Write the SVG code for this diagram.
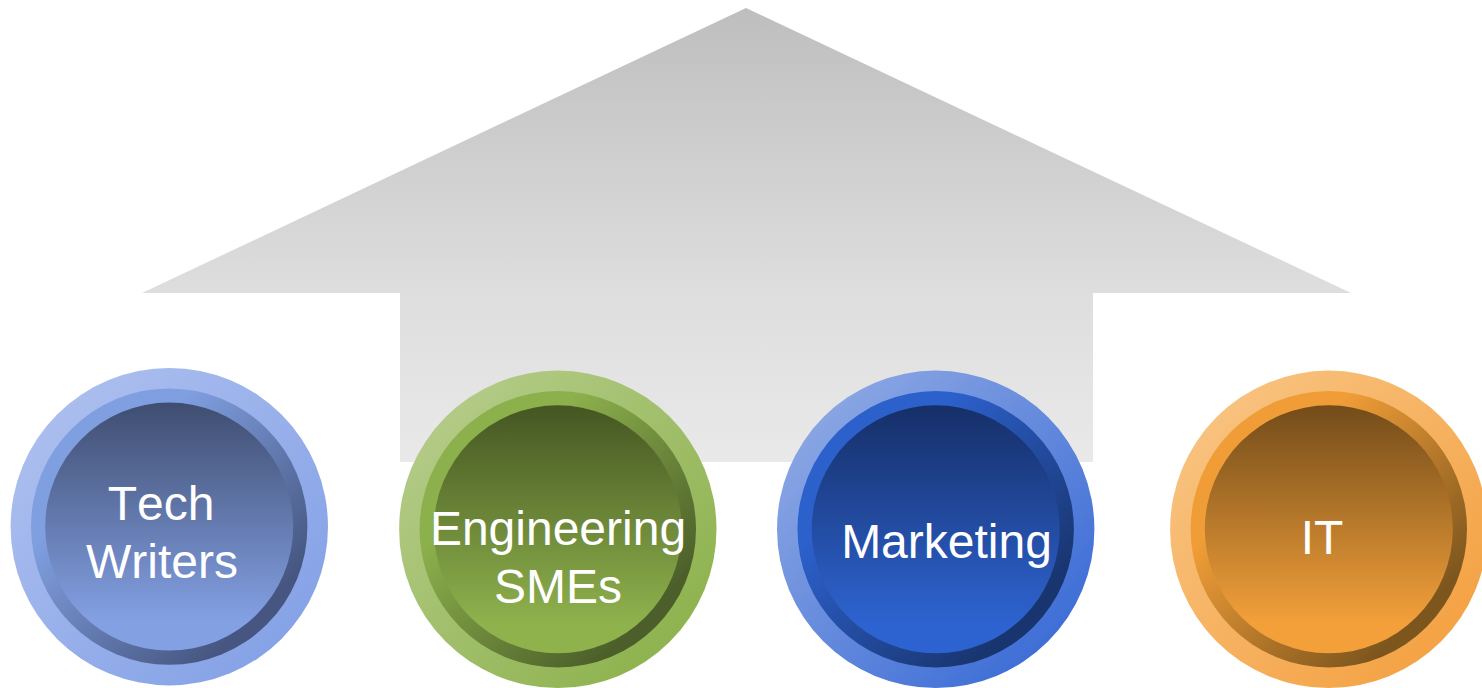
<svg xmlns="http://www.w3.org/2000/svg" width="1482" height="688" viewBox="0 0 1482 688">
<style>
text{font-family:"Liberation Sans",Arial,sans-serif;font-size:48px;fill:#fff;text-anchor:middle;font-kerning:none}
</style>
<defs>
<linearGradient id="arrowG" gradientUnits="userSpaceOnUse" x1="0" y1="8" x2="0" y2="462"><stop offset="0" stop-color="#bebebe"/><stop offset="0.63" stop-color="#dedede"/><stop offset="1" stop-color="#e9e9e9"/></linearGradient>
<linearGradient id="o1" x1="0.15" y1="0.15" x2="0.85" y2="0.85"><stop offset="0" stop-color="#aabdee"/><stop offset="1" stop-color="#86a3e7"/></linearGradient>
<linearGradient id="m1" x1="0.15" y1="0.15" x2="0.85" y2="0.85"><stop offset="0.2" stop-color="#809fe0"/><stop offset="0.95" stop-color="#465680"/></linearGradient>
<linearGradient id="i1" x1="0" y1="0" x2="0" y2="1"><stop offset="0" stop-color="#3f4d70"/><stop offset="0.88" stop-color="#83a0e3"/></linearGradient>
<linearGradient id="o2" x1="0.15" y1="0.15" x2="0.85" y2="0.85"><stop offset="0" stop-color="#b2ca85"/><stop offset="1" stop-color="#8fb350"/></linearGradient>
<linearGradient id="m2" x1="0.15" y1="0.15" x2="0.85" y2="0.85"><stop offset="0.2" stop-color="#8cb04c"/><stop offset="0.95" stop-color="#4c5f2a"/></linearGradient>
<linearGradient id="i2" x1="0" y1="0" x2="0" y2="1"><stop offset="0" stop-color="#455622"/><stop offset="0.88" stop-color="#8fb24d"/></linearGradient>
<linearGradient id="o3" x1="0.15" y1="0.15" x2="0.85" y2="0.85"><stop offset="0" stop-color="#88a4e3"/><stop offset="1" stop-color="#3f6fd6"/></linearGradient>
<linearGradient id="m3" x1="0.15" y1="0.15" x2="0.85" y2="0.85"><stop offset="0.2" stop-color="#2c60cb"/><stop offset="0.95" stop-color="#19356f"/></linearGradient>
<linearGradient id="i3" x1="0" y1="0" x2="0" y2="1"><stop offset="0" stop-color="#162f68"/><stop offset="0.88" stop-color="#2d63d0"/></linearGradient>
<linearGradient id="o4" x1="0.15" y1="0.15" x2="0.85" y2="0.85"><stop offset="0" stop-color="#f8c17d"/><stop offset="1" stop-color="#f4a345"/></linearGradient>
<linearGradient id="m4" x1="0.15" y1="0.15" x2="0.85" y2="0.85"><stop offset="0.2" stop-color="#f09d37"/><stop offset="0.95" stop-color="#7d561e"/></linearGradient>
<linearGradient id="i4" x1="0" y1="0" x2="0" y2="1"><stop offset="0" stop-color="#734c1a"/><stop offset="0.88" stop-color="#f3a03a"/></linearGradient>
</defs>
<polygon id="arrow" fill="url(#arrowG)" points="746,8 1351,293 1093,293 1093,462 400,462 400,293 142,293"/>
<g id="connectors"></g>
<g id="tech-writers">
<circle cx="169.3" cy="526.7" r="158.7" fill="url(#o1)"/>
<circle cx="169.2" cy="526.6" r="138.2" fill="url(#m1)"/>
<circle cx="169.2" cy="526.6" r="124" fill="url(#i1)"/>
<text x="161" y="520">Tech</text>
<text x="162" y="578">Writers</text>
</g>
<g id="engineering-smes">
<circle cx="557.8" cy="529.3" r="158.7" fill="url(#o2)"/>
<circle cx="557.8" cy="529.3" r="138.2" fill="url(#m2)"/>
<circle cx="557.8" cy="529.3" r="124" fill="url(#i2)"/>
<text x="558" y="545">Engineering</text>
<text x="558" y="603">SMEs</text>
</g>
<g id="marketing">
<circle cx="935.7" cy="529.3" r="158.7" fill="url(#o3)"/>
<circle cx="935.7" cy="529.3" r="138.2" fill="url(#m3)"/>
<circle cx="935.7" cy="529.3" r="124" fill="url(#i3)"/>
<text x="946.5" y="558">Marketing</text>
</g>
<g id="it">
<circle cx="1328.8" cy="529.3" r="158.7" fill="url(#o4)"/>
<circle cx="1328.8" cy="529.3" r="138.2" fill="url(#m4)"/>
<circle cx="1328.8" cy="529.3" r="124" fill="url(#i4)"/>
<text x="1322" y="554">IT</text>
</g>
</svg>
